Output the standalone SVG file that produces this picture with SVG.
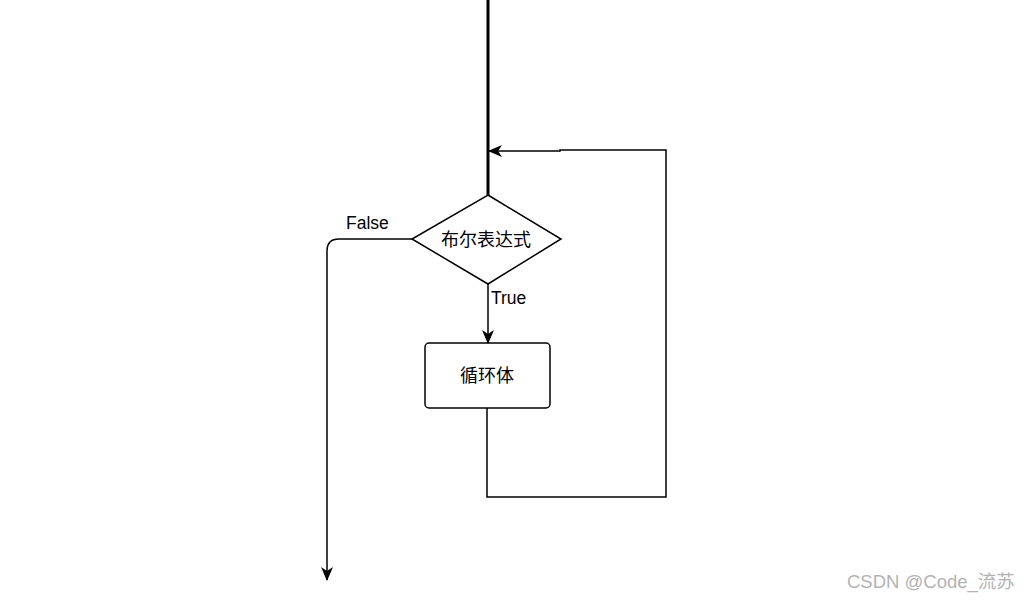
<svg xmlns="http://www.w3.org/2000/svg" width="1029" height="601" viewBox="0 0 1029 601">
<style>
.ln{fill:none;stroke:#000;stroke-width:1.5}
.shape{fill:#fff;stroke:#000;stroke-width:1.5}
.t{font-family:"Liberation Sans","Noto Sans CJK SC",sans-serif;font-size:18px;fill:#000}
.lbl{font-family:"Liberation Sans",sans-serif;font-size:17.5px;fill:#000}
.wm{font-family:"Liberation Sans","Noto Sans CJK SC",sans-serif;font-size:18.5px;fill:#b3b3b3}
</style>
<defs>
<marker id="arr" viewBox="0 0 14 12" refX="13" refY="6" markerWidth="14" markerHeight="12" markerUnits="userSpaceOnUse" orient="auto">
<path d="M0,0 L14,6 L0,12 L4,6 Z" fill="#000"/>
</marker>
</defs>
<rect width="1029" height="601" fill="#fff"/>
<g id="connectors">
<line x1="488" y1="0" x2="488" y2="195" stroke="#000" stroke-width="3"/>
<path class="ln" d="M488,284 L488,343" marker-end="url(#arr)"/>
<path class="ln" d="M487,408 L487,497 L666,497 L666,150 L560,150 L560,151 L489,151" marker-end="url(#arr)"/>
<path class="ln" d="M412,239 L339,239 Q327,239 327,251 L327,580" marker-end="url(#arr)"/>
<text class="lbl" x="346" y="229">False</text>
<text class="lbl" x="491" y="304">True</text>
</g>
<g id="node-cond">
<polygon class="shape" points="488,195 561,239 488,284 412,239"/>
<text class="t" x="486" y="246" text-anchor="middle">布尔表达式</text>
</g>
<g id="node-body">
<rect class="shape" x="425" y="343" width="125" height="65" rx="4"/>
<text class="t" x="487" y="382" text-anchor="middle">循环体</text>
</g>
<text class="wm" x="847" y="588">CSDN @Code_流苏</text>
</svg>
